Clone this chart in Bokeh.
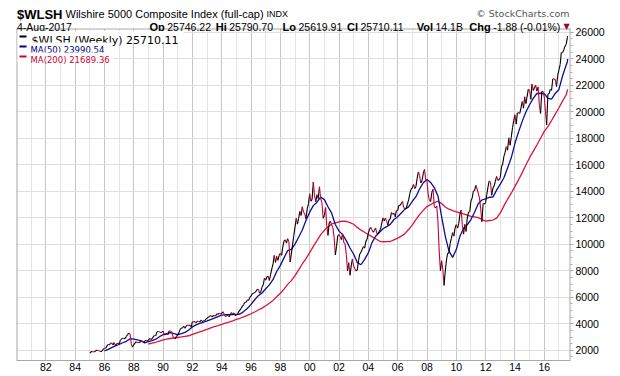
import pandas as pd
from bokeh.plotting import figure
from bokeh.models import Range1d, FixedTicker, DatetimeTickFormatter, ColumnDataSource
from bokeh.core.properties import value
from bokeh.embed import file_html
from bokeh.resources import INLINE

# ---------------- data ----------------
# $WLSH close, first point 4-Jan-1985, then month ends Jan-1985 .. Jul-2017, then 4-Aug-2017
close_values = [
    1790,
    1895, 1903, 1897, 1879, 1981, 1996, 1985, 1952, 1876, 1955, 2073, 2166,
    2160, 2314, 2437, 2402, 2523, 2558, 2408, 2580, 2359, 2489, 2542, 2470,
    2741, 2842, 2917, 2884, 2901, 3040, 3187, 3298, 3218, 2480, 2240, 2434,
    2545, 2651, 2563, 2587, 2596, 2708, 2693, 2589, 2692, 2762, 2710, 2749,
    2901, 2817, 2875, 3019, 3125, 3100, 3374, 3427, 3405, 3319, 3373, 3446,
    3159, 3186, 3263, 3176, 3468, 3437, 3402, 3049, 2893, 2873, 3061, 3137,
    3336, 3579, 3677, 3678, 3840, 3656, 3839, 3914, 3860, 3905, 3752, 4171,
    4129, 4168, 4077, 4191, 4196, 4122, 4284, 4181, 4220, 4229, 4357, 4401,
    4498, 4545, 4630, 4512, 4615, 4618, 4593, 4752, 4704, 4795, 4733, 4782,
    4912, 4764, 4547, 4599, 4664, 4532, 4675, 4850, 4720, 4818, 4628, 4685,
    4751, 4923, 5032, 5173, 5334, 5448, 5621, 5619, 5815, 5757, 5993, 6097,
    6265, 6308, 6358, 6444, 6591, 6605, 6304, 6422, 6770, 6947, 7456, 7296,
    7548, 7592, 7268, 7692, 8144, 8497, 9161, 8635, 9094, 8780, 9172, 9316,
    9166, 9811, 10247, 10340, 10090, 10431, 10198, 8664, 9255, 9998, 10647, 11309,
    11964, 11516, 11964, 12484, 12172, 12835, 12423, 12280, 11929, 12675, 13057, 13811,
    13248, 13391, 14700, 13653, 13212, 13746, 13450, 14342, 13431, 13150, 11968, 12173,
    12772, 11407, 10675, 11620, 11744, 11448, 11264, 10542, 9200, 9856, 10654, 10735,
    10567, 10348, 10786, 10123, 10031, 9255, 8000, 8611, 7664, 8371, 8895, 8358,
    8129, 7991, 8058, 8756, 9251, 9404, 9606, 9828, 9711, 10244, 10370, 10841,
    11141, 11277, 11093, 10907, 11039, 11237, 10797, 10821, 10979, 11132, 11621, 11998,
    11754, 11976, 11747, 11453, 11855, 11913, 12404, 12264, 12349, 12070, 12557, 12545,
    12929, 12935, 13078, 13237, 12764, 12702, 12703, 13038, 13359, 13848, 14146, 14254,
    14526, 14209, 14351, 14972, 15459, 15184, 14626, 14814, 15344, 15649, 14885, 14757,
    13786, 13306, 13227, 13925, 14144, 12864, 12737, 12892, 11664, 9494, 8000, 8762,
    8094, 6900, 7979, 8815, 9329, 9331, 10073, 10461, 10888, 10621, 11230, 11486,
    11222, 11542, 12279, 12579, 11439, 10771, 11512, 10965, 11983, 12425, 12455, 13268,
    13504, 14002, 14053, 14454, 14192, 13866, 13504, 12677, 11710, 13097, 13031, 13142,
    13780, 14340, 14789, 14678, 13692, 14235, 14414, 14769, 15127, 14828, 14870, 15046,
    15880, 16056, 16634, 16935, 17367, 17107, 18037, 17473, 18077, 18795, 19322, 19778,
    19074, 19897, 19940, 19876, 20294, 20778, 20272, 21136, 20611, 21190, 21710, 21618,
    20948, 22097, 21610, 21793, 22022, 21559, 21880, 20511, 19872, 21522, 21532, 21154,
    19984, 19000, 21318, 21376, 21703, 21619, 22497, 22469, 22442, 21900, 22760, 23171,
    23587, 24463, 24454, 24676, 24962, 25082, 25642,
    25710,
]

# MA(50): quarter ends Dec-1985 .. Jun-2017, then Jul-2017 and 4-Aug-2017
ma50_values = [
    1963,
    2065, 2200, 2328, 2437,
    2569, 2681, 2877, 2849,
    2787, 2709, 2565, 2654,
    2723, 2836, 3022, 3182,
    3266, 3336, 3264, 3175,
    3257, 3348, 3538, 3767,
    3916, 4027, 4116, 4213,
    4321, 4424, 4538, 4648,
    4694, 4698, 4714, 4700,
    4740, 4920, 5154, 5464,
    5816, 6123, 6326, 6647,
    6937, 7328, 7944, 8408,
    8976, 9520, 9623, 10013,
    10531, 11084, 11793, 12426,
    12917, 13177, 13560, 13372,
    12832, 12348, 11497, 10993,
    10730, 10280, 9719, 9251,
    8624, 8457, 8863, 9349,
    10127, 10608, 10896, 11170,
    11334, 11504, 11872, 12074,
    12363, 12653, 12826, 13249,
    13595, 14171, 14644, 14898,
    14667, 14277, 13653, 12067,
    10621, 9500, 9011, 9601,
    10606, 11216, 11469, 11870,
    12413, 13057, 13343, 13436,
    13549, 13556, 14091, 14547,
    15019, 15753, 16526, 17622,
    18484, 19278, 19981, 20533,
    21012, 21381, 21401, 21375,
    21012, 20956, 21385, 21687,
    22703, 23539, 23801, 23990,
]

# MA(200): quarter ends Dec-1988 .. Jun-2017, then 4-Aug-2017
ma200_values = [
    2476,
    2536, 2607, 2698, 2781,
    2836, 2891, 2932, 2965,
    3008, 3057, 3097, 3195,
    3291, 3387, 3485, 3584,
    3690, 3784, 3864, 3951,
    4047, 4124, 4227, 4332,
    4418, 4517, 4631, 4756,
    4893, 5041, 5183, 5365,
    5547, 5767, 6035, 6305,
    6617, 6973, 7262, 7633,
    8065, 8514, 8922, 9374,
    9840, 10277, 10730, 11055,
    11314, 11532, 11618, 11701,
    11753, 11722, 11642, 11511,
    11276, 11066, 10910, 10741,
    10578, 10423, 10244, 10191,
    10204, 10212, 10338, 10461,
    10612, 10806, 11114, 11461,
    11855, 12234, 12560, 12848,
    12990, 13151, 13249, 13072,
    12812, 12650, 12534, 12454,
    12372, 12291, 12194, 12109,
    12077, 12013, 11869, 11744,
    11797, 11832, 11979, 12364,
    12897, 13396, 13857, 14369,
    14866, 15411, 15985, 16535,
    17016, 17492, 18000, 18519,
    18882, 19342, 19823, 20304,
    20803, 21289, 21689,
]

year_tick_years = list(range(1982, 2017, 2))
minor_years = list(range(1981, 2018, 2))
y_tick_values = list(range(2000, 26001, 2000))

legend_texts = ["$WLSH (Weekly) 25710.11", "MA(50) 23990.54", "MA(200) 21689.36"]
quote_keys = ["Op", "Hi", "Lo", "Cl", "Vol", "Chg"]
quote_vals = ["25746.22", "25790.70", "25619.91", "25710.11", "14.1B", "-1.88 (-0.01%)"]

# ---------------- dates ----------------
def month_ends(y0, m0, y1, m1, step=1):
    out = []
    y, m = y0, m0
    while (y, m) <= (y1, m1):
        out.append(pd.Timestamp(y, m, 1) + pd.offsets.MonthEnd(0))
        m += step
        while m > 12:
            y, m = y + 1, m - 12
    return out

close_dates = [pd.Timestamp(1985, 1, 4)] + month_ends(1985, 1, 2017, 7) + [pd.Timestamp(2017, 8, 4)]
ma50_dates = month_ends(1985, 12, 2017, 6, 3) + [pd.Timestamp(2017, 7, 31), pd.Timestamp(2017, 8, 4)]
ma200_dates = month_ends(1988, 12, 2017, 6, 3) + [pd.Timestamp(2017, 8, 4)]

UP, DOWN = "#000000", "#cc0033"
BLUE, RED = "#0c0c96", "#dc143c"
FRAME = "#a8a8a8"

seg = ColumnDataSource(dict(
    x0=close_dates[:-1], x1=close_dates[1:],
    y0=close_values[:-1], y1=close_values[1:],
    c=[UP if b >= a else DOWN for a, b in zip(close_values[:-1], close_values[1:])],
))

def ms(ts):
    return ts.value // 10**6

# ---------------- figure ----------------
# the plot frame spans page x 16..570 and y 0..360; the visible chart box starts at y=28,
# the strip above it holds the header texts.
FL, FR, FB = 16, 570, 360
BOX_TOP = 28
X0, X1 = pd.Timestamp(1980, 1, 1), pd.Timestamp(2017, 10, 15)
Y0, Y1 = 1230, 28400

p = figure(width=620, height=376, output_backend="svg", toolbar_location=None, title=None,
           x_axis_type="datetime", y_axis_location="right",
           x_range=Range1d(X0, X1), y_range=Range1d(Y0, Y1),
           min_border_left=FL, min_border_right=620 - FR, min_border_top=0, min_border_bottom=376 - FB,
           background_fill_color="white", border_fill_color="white",
           outline_line_color=None)

def px_x(cx):
    return X0 + (X1 - X0) * ((cx - FL) / (FR - FL))

def px_y(cy):
    return Y0 + (Y1 - Y0) * ((FB - cy) / FB)

xa = p.xaxis[0]
xa.ticker = FixedTicker(ticks=[ms(pd.Timestamp(y, 1, 1)) for y in year_tick_years],
                        minor_ticks=[ms(pd.Timestamp(y, 1, 1)) for y in minor_years])
xa.formatter = DatetimeTickFormatter(years="%y", months="%y", days="%y")
xa.major_tick_out = 0
xa.major_tick_in = 0
xa.minor_tick_out = 0
xa.minor_tick_in = 0
xa.axis_line_color = FRAME
xa.major_label_text_font = "Liberation Sans"
xa.major_label_text_font_size = "10.5px"
xa.major_label_text_color = "black"
xa.major_label_standoff = 2

ya = p.yaxis[0]
ya.ticker = FixedTicker(ticks=y_tick_values, minor_ticks=list(range(1500, 26001, 500)))
ya.major_tick_out = 3
ya.major_tick_in = 0
ya.minor_tick_out = 2
ya.minor_tick_in = 0
ya.major_tick_line_color = FRAME
ya.minor_tick_line_color = FRAME
ya.axis_line_color = None
ya.major_label_text_font = "Liberation Sans"
ya.major_label_text_font_size = "10.5px"
ya.major_label_text_color = "black"
ya.major_label_standoff = 2

p.xgrid.grid_line_color = "#c6c6c6"
p.xgrid.minor_grid_line_color = "#e4e4e4"
p.ygrid.grid_line_color = "#dedede"

# blank strip above the chart box, then the box edges
p.quad(left=[X0], right=[X1], top=[Y1], bottom=[px_y(BOX_TOP)], fill_color="white", line_color=None)
p.segment(x0=[X0, X0, X1], x1=[X1, X0, X1],
          y0=[px_y(BOX_TOP + 0.5), px_y(BOX_TOP), px_y(BOX_TOP)], y1=[px_y(BOX_TOP + 0.5), Y0, Y0],
          line_color=FRAME, line_width=[1, 2, 2])

# series
p.line(ma200_dates, ma200_values, line_color=RED, line_width=1.3)
p.line(ma50_dates, ma50_values, line_color=BLUE, line_width=1.3)
p.segment(x0="x0", y0="y0", x1="x1", y1="y1", line_color="c", line_width=1.1, source=seg)


def ptext(t, cx, cy, size, color="black", bold=False, font="Liberation Sans", align="left"):
    p.text(x=[px_x(cx)], y=[px_y(cy)], text=[t], text_font=value(font), text_font_size=value(f"{size}px"),
           text_color=color, text_font_style=value("bold" if bold else "normal"),
           text_align=align, text_baseline="alphabetic")


# header
ptext("$WLSH", 16.5, 13.5, 13, bold=True)
ptext("Wilshire 5000 Composite Index (full-cap)", 65, 13.3, 11)
ptext("INDX", 266, 13.3, 9)
ptext("\u00a9 StockCharts.com", 569, 12.5, 9.5, color="#555555", align="right", font="DejaVu Sans")
ptext("4-Aug-2017", 16.5, 26, 10.5)
val_x = [166.7, 228.7, 298.0, 360.0, 435.0, 492.7]
for k, v, x in zip(quote_keys, quote_vals, val_x):
    ptext(k, x - 2.5, 26, 11, bold=True, align="right")
    ptext(v, x, 26, 10.5)
ptext("\u25bc", 566, 26, 8, color="#990033", align="center", font="DejaVu Sans")

# legend block
rows = [(39.5, 11, "black", 183), (49.5, 8.5, "#000080", 111), (59.5, 8.5, "#cc0033", 113)]
for (base, size, col, right), txt in zip(rows, legend_texts):
    top = base - (9 if size > 10 else 7.5)
    p.quad(left=[px_x(17)], right=[px_x(right)], top=[px_y(top)], bottom=[px_y(base + 2.5)],
           fill_color="white", line_color=None)
    p.segment(x0=[px_x(19)], x1=[px_x(26)], y0=[px_y(base - 3.5)], y1=[px_y(base - 3.5)],
              line_color=col, line_width=2.2)
    ptext(txt, 31 if size > 10 else 30, base, size, color=col, font="DejaVu Sans")

open("out.html", "w").write(file_html(p, INLINE))
